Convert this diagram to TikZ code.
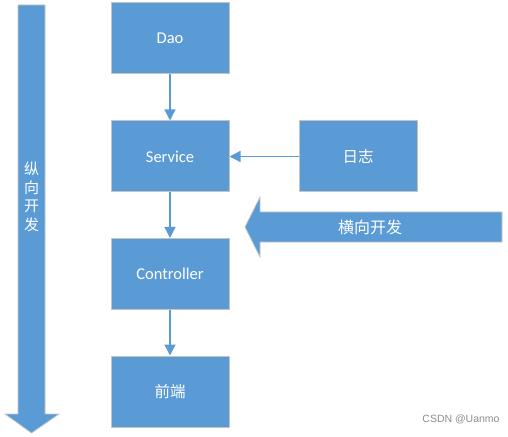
\documentclass[tikz,border=0pt]{standalone}
\usepackage{fontspec}
\setmainfont{Carlito}
\newfontfamily\cjk{Noto Sans CJK SC}
\newfontfamily\wmfont{Liberation Sans}
\usetikzlibrary{arrows.meta}
\definecolor{boxblue}{HTML}{5B9BD5}
\definecolor{edgegray}{HTML}{C4C4C4}
\definecolor{wmgray}{HTML}{8C8C8C}
\tikzset{
  blockbox/.style={draw=edgegray, line width=1bp, fill=boxblue, minimum width=118bp, minimum height=71bp, inner sep=0pt, text=white, font=\fontsize{16.5bp}{19bp}\selectfont},
  cjkbox/.style={blockbox, font=\cjk\fontsize{15.5bp}{18bp}\selectfont},
  conn/.style={draw=boxblue, line width=1.4bp, -{Triangle[width=11bp,length=11bp]}},
  bigarrow/.style={draw=edgegray, line width=0.8bp, fill=boxblue}
}
\begin{document}
\begin{tikzpicture}[x=1bp,y=-1bp]
\useasboundingbox (0,0) rectangle (508,437);
% vertical big arrow
\path[bigarrow] (18,5) -- (45,5) -- (45,414) -- (59,414) -- (31.5,433) -- (5,414) -- (18,414) -- cycle;
\node[text=white, align=center, font=\cjk\fontsize{15bp}{18.5bp}\selectfont] (vtext) at (31.5,197) {纵\\向\\开\\发};
% horizontal big arrow
\path[bigarrow] (502,212) -- (502,242) -- (260,242) -- (260,257) -- (245,227) -- (260,197) -- (260,212) -- cycle;
\node[text=white, font=\cjk\fontsize{16bp}{18bp}\selectfont] (htext) at (370,227) {横向开发};
% boxes
\node[blockbox] (dao) at (170,38.5) {Dao};
\node[blockbox] (service) at (170,156.5) {Service};
\node[blockbox] (controller) at (170,274) {Controller};
\node[cjkbox] (front) at (170,391.5) {前端};
\node[cjkbox] (log) at (358,156.5) {日志};
% connectors
\draw[conn] (dao) -- (service);
\draw[conn] (service) -- (controller);
\draw[conn] (controller) -- (front);
\draw[conn] (log) -- (service);
% watermark
\node[text=wmgray, font=\wmfont\fontsize{10.5bp}{12bp}\selectfont] (wm) at (461,419) {CSDN @Uanmo};
\end{tikzpicture}
\end{document}
